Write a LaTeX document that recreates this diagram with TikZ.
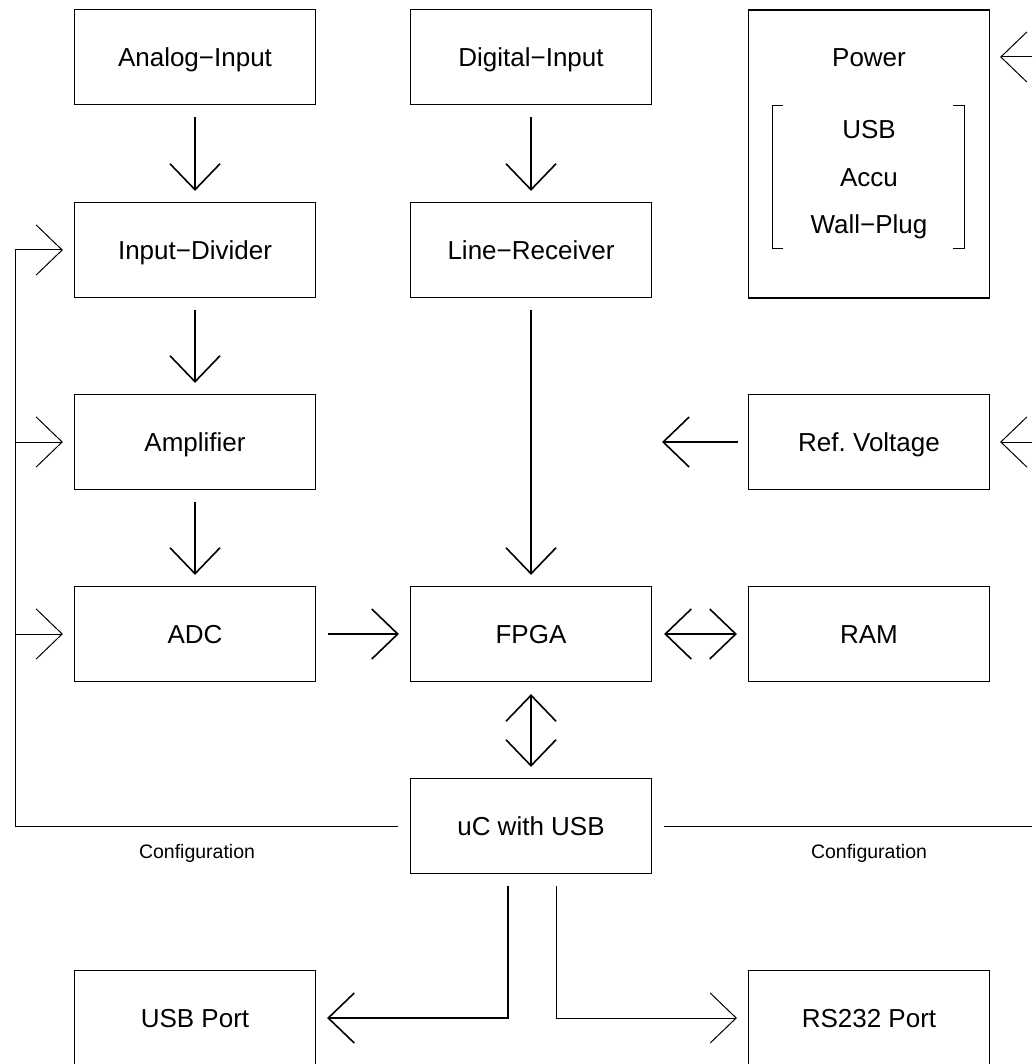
\documentclass[tikz,border=0pt]{standalone}
\usepackage{fontspec}
\setmainfont{Liberation Sans}
\usetikzlibrary{arrows.meta}

\tikzset{
  block/.style={draw,line width=1.2pt,minimum width=241pt,minimum height=95pt,inner sep=0pt,text height=18.6pt,text depth=0pt,font=\fontsize{26}{31}\selectfont},
  plain/.style={inner sep=0pt,text height=18.6pt,text depth=0pt,font=\fontsize{26}{31}\selectfont},
  small/.style={inner sep=0pt,text height=14pt,text depth=0pt,font=\fontsize{19.5}{23}\selectfont},
  link/.style={line width=1.6pt,shorten <=12pt,shorten >=11pt},
  cfg/.style={line width=1pt},
  >={Straight Barb[length=26pt,width=50pt]}
}

\begin{document}
\begin{tikzpicture}[x=1pt,y=-1pt]
    \useasboundingbox (0,0) rectangle (1032,1064);
    % first column
    \node at (195,57) [block] (ain) {Analog−Input};
    \node at (195,250) [block] (idiv) {Input−Divider};
    \node at (195,442) [block] (amp) {Amplifier};
    \node at (195,634) [block] (adc) {ADC};
    \node at (195,1018) [block] (usbp) {USB Port};
    % second column
    \node at (531,57) [block] (din) {Digital−Input};
    \node at (531,250) [block] (lrx) {Line−Receiver};
    \node at (531,634) [block] (fpga) {FPGA};
    \node at (531,826) [block] (uc) {uC with USB};
    % third column
    \node at (869,154) [block,minimum height=288pt] (pwr) {};
    \node at (869,57) [plain] (pwrlbl) {Power};
    \node at (869,129) [plain] (src1) {USB};
    \node at (869,177) [plain] (src2) {Accu};
    \node at (869,224) [plain] (src3) {Wall−Plug};
    \draw[cfg] (783,106) -- (772,106) -- (772,249) -- (783,249);
    \draw[cfg] (953,106) -- (964,106) -- (964,249) -- (953,249);
    \node at (869,442) [block] (ref) {Ref.\ Voltage};
    \node at (869,634) [block] (ram) {RAM};
    \node at (869,1018) [block] (rs) {RS232 Port};
    % labels
    \node at (197,851) [small] (cfgl) {Configuration};
    \node at (869,851) [small] (cfgr) {Configuration};
    \coordinate (busL) at (15,826);
    \coordinate (busR) at (1032,826);
    \coordinate (refend) at (662,442);

    \draw[link,->] (ain) -- (idiv);
    \draw[link,->] (idiv) -- (amp);
    \draw[link,->] (amp) -- (adc);
    \draw[link,->] (din) -- (lrx);
    \draw[link,->] (lrx) -- (fpga);
    \draw[link,->] (adc) -- (fpga);
    \draw[link,<->] (fpga) -- (ram);
    \draw[link,<->] (fpga) -- (uc);
    \draw[link,->,shorten <=10pt,shorten >=0pt] (ref) -- (refend);
    \draw[link,->,shorten <=0pt,shorten >=0pt] ([xshift=-23pt,yshift=-12pt]uc.south) |- ([xshift=11pt]usbp.east);
    \draw[cfg,->] ([xshift=25pt,yshift=-12pt]uc.south) |- ([xshift=-11pt]rs.west);
    % configuration lines
    \draw[cfg,->] ([xshift=-12pt]uc.west) -- (busL) |- ([xshift=-11pt]idiv.west);
    \draw[cfg,->] (busL |- amp.west) -- ([xshift=-11pt]amp.west);
    \draw[cfg,->] (busL |- adc.west) -- ([xshift=-11pt]adc.west);
    \draw[cfg] ([xshift=12pt]uc.east) -- (busR);
    \draw[cfg,->] (busR |- pwrlbl) -- ([xshift=10pt]pwr.east |- pwrlbl);
    \draw[cfg,->] (busR |- ref) -- ([xshift=10pt]ref.east);
\end{tikzpicture}
\end{document}
